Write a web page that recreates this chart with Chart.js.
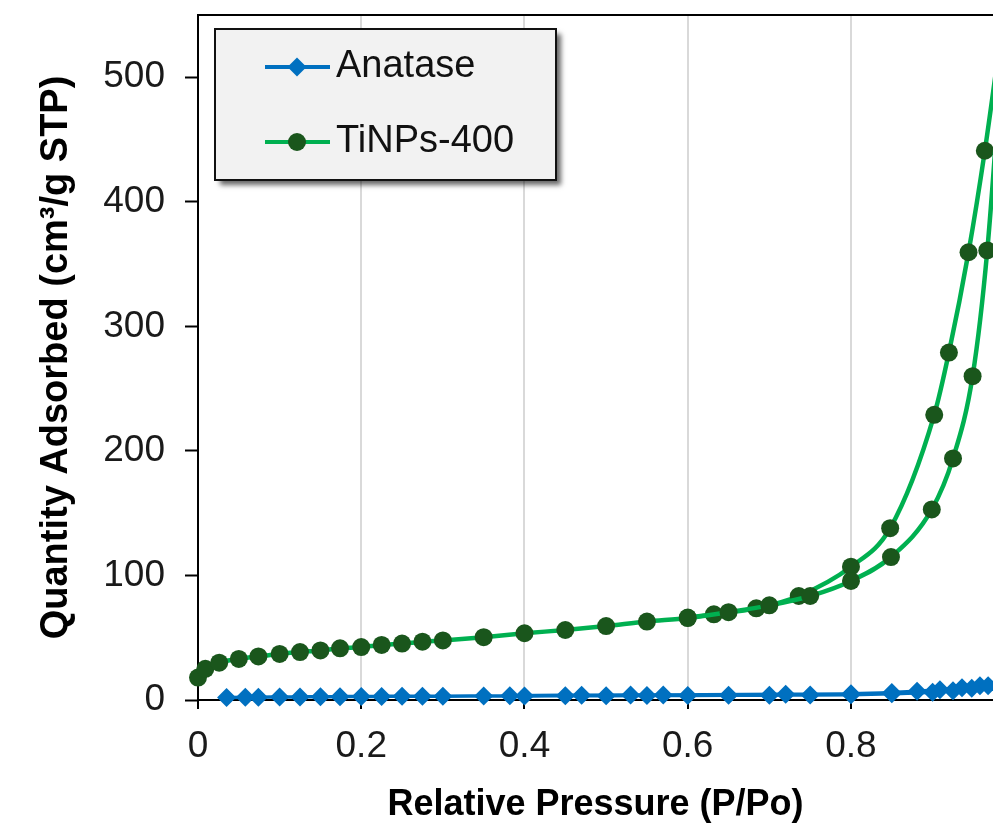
<!DOCTYPE html>
<html>
<head>
<meta charset="utf-8">
<script src="https://cdn.jsdelivr.net/npm/chart.js@4.4.1/dist/chart.umd.min.js"></script>
<style>
  html, body { margin: 0; padding: 0; background: #ffffff; overflow: hidden; }
  canvas { display: block; }
</style>
</head>
<body>
<canvas id="isotherm" width="993" height="827"></canvas>
<script>
// N2 sorption isotherms: relative pressure (P/Po) vs quantity adsorbed (cm³/g STP)
const seriesNames = ['Anatase', 'TiNPs-400'];

// Anatase – adsorption and desorption branches
const anataseAdsP = [0.035, 0.058, 0.074, 0.10, 0.125, 0.15, 0.174, 0.20, 0.225, 0.25, 0.275, 0.30, 0.35, 0.40, 0.45, 0.50, 0.55, 0.60, 0.65, 0.70, 0.75, 0.80, 0.85, 0.90, 0.925, 0.948, 0.968, 0.99];
const anataseAdsQ = [2.0, 2.2, 2.3, 2.4, 2.5, 2.6, 2.7, 2.8, 2.9, 3.0, 3.0, 3.1, 3.2, 3.3, 3.4, 3.5, 3.6, 3.7, 3.8, 3.9, 4.0, 4.3, 5.0, 6.2, 7.4, 9.5, 11.5, 16];
const anataseDesP = [0.382, 0.47, 0.53, 0.57, 0.72, 0.80, 0.85, 0.881, 0.909, 0.936, 0.958, 0.99];
const anataseDesQ = [3.5, 3.8, 4.0, 4.1, 4.6, 5.0, 6.0, 7.0, 8.2, 9.8, 11.5, 16];

// TiNPs-400 – adsorption and desorption branches (hysteresis loop)
const tinpsAdsP = [0.0, 0.009, 0.026, 0.05, 0.074, 0.10, 0.125, 0.15, 0.174, 0.20, 0.225, 0.25, 0.275, 0.30, 0.35, 0.40, 0.45, 0.50, 0.55, 0.60, 0.65, 0.70, 0.75, 0.80, 0.849, 0.899, 0.925, 0.949, 0.967, 0.99];
const tinpsAdsQ = [18, 25, 30, 33, 35, 37, 38.5, 39.8, 41.5, 42.5, 44.2, 45.3, 46.8, 47.8, 50.4, 53.6, 56.2, 59.4, 63, 65.8, 70.5, 76, 83.5, 95.6, 114.8, 153, 194, 260, 361, 565];
const tinpsDesP = [0.60, 0.632, 0.684, 0.736, 0.80, 0.848, 0.902, 0.92, 0.944, 0.964, 0.99];
const tinpsDesQ = [66.2, 68.8, 73.6, 83.5, 107, 138, 229, 279, 359.5, 441, 565];

// Axis ticks and titles
const xTickValues = [0, 0.2, 0.4, 0.6, 0.8];
const yTickValues = [0, 100, 200, 300, 400, 500];
const xTitle = 'Relative Pressure (P/Po)';
const yTitle = 'Quantity Adsorbed (cm³/g STP)';

const FONT = "'Liberation Sans', Arial, Helvetica, sans-serif";
const BLUE = '#0070c0';
const GREEN_LINE = '#00b050';
const GREEN_MARK = '#1a561c';

function toPoints(xs, ys) {
  return xs.map((x, i) => ({ x: x, y: ys[i] }));
}

const seriesStyle = [
  { line: BLUE, marker: BLUE, shape: 'rectRot', radius: 9.5, width: 3.5 },
  { line: GREEN_LINE, marker: GREEN_MARK, shape: 'circle', radius: 9, width: 4.5 }
];

function branch(series, xs, ys) {
  const s = seriesStyle[series];
  return {
    label: seriesNames[series],
    data: toPoints(xs, ys),
    borderColor: s.line,
    borderWidth: s.width,
    pointStyle: s.shape,
    pointRadius: s.radius,
    pointHoverRadius: s.radius,
    pointBackgroundColor: s.marker,
    pointBorderColor: s.marker,
    pointBorderWidth: 0,
    cubicInterpolationMode: 'monotone',
    fill: false,
    clip: { left: 16, top: 0, right: 0, bottom: 16 }
  };
}

// Scales keep their boxes exactly as fitted (no extra label overhang padding)
function noOverhang(scale) {
  scale.paddingTop = 0;
  scale.paddingBottom = 0;
  scale.paddingLeft = 0;
  scale.paddingRight = 0;
}

// Top frame line of the plot area
const frameTop = {
  id: 'frameTop',
  beforeDatasetsDraw(chart) {
    const { ctx, chartArea } = chart;
    ctx.save();
    ctx.strokeStyle = '#000';
    ctx.lineWidth = 2;
    ctx.beginPath();
    ctx.moveTo(chartArea.left - 1, chartArea.top);
    ctx.lineTo(chartArea.right, chartArea.top);
    ctx.stroke();
    ctx.restore();
  }
};

// Boxed legend with drop shadow inside the plot area
const boxedLegend = {
  id: 'boxedLegend',
  afterDatasetsDraw(chart) {
    const { ctx, chartArea } = chart;
    const bx = chartArea.left + 17, by = chartArea.top + 14, bw = 341, bh = 151;
    ctx.save();
    ctx.shadowColor = 'rgba(0,0,0,0.6)';
    ctx.shadowBlur = 5;
    ctx.shadowOffsetX = 5;
    ctx.shadowOffsetY = 5;
    ctx.fillStyle = '#f2f2f2';
    ctx.fillRect(bx, by, bw, bh);
    ctx.restore();

    ctx.save();
    ctx.strokeStyle = '#111';
    ctx.lineWidth = 2;
    ctx.strokeRect(bx, by, bw, bh);

    const rows = [by + 38, by + 113];
    seriesNames.forEach((name, i) => {
      const s = seriesStyle[i];
      const y = rows[i];
      ctx.strokeStyle = s.line;
      ctx.lineWidth = 4;
      ctx.beginPath();
      ctx.moveTo(bx + 50, y);
      ctx.lineTo(bx + 115, y);
      ctx.stroke();

      const mx = bx + 82;
      ctx.fillStyle = s.marker;
      ctx.beginPath();
      if (s.shape === 'rectRot') {
        const r = s.radius;
        ctx.moveTo(mx - r, y);
        ctx.lineTo(mx, y - r);
        ctx.lineTo(mx + r, y);
        ctx.lineTo(mx, y + r);
        ctx.closePath();
      } else {
        ctx.arc(mx, y, s.radius, 0, Math.PI * 2);
      }
      ctx.fill();

      ctx.fillStyle = '#111';
      ctx.font = '38px ' + FONT;
      ctx.textAlign = 'left';
      ctx.textBaseline = 'middle';
      ctx.fillText(name, bx + 121, y);
    });
    ctx.restore();
  }
};

new Chart(document.getElementById('isotherm'), {
  type: 'line',
  data: {
    datasets: [
      branch(0, anataseAdsP, anataseAdsQ),
      branch(0, anataseDesP, anataseDesQ),
      branch(1, tinpsAdsP, tinpsAdsQ),
      branch(1, tinpsDesP, tinpsDesQ)
    ]
  },
  options: {
    responsive: false,
    animation: false,
    devicePixelRatio: 1,
    // the plot area runs to the right edge of the canvas
    layout: { autoPadding: false, padding: { top: 15, left: 0, right: 0, bottom: 0 } },
    plugins: {
      legend: { display: false },
      tooltip: { enabled: false }
    },
    scales: {
      x: {
        type: 'linear',
        min: 0,
        max: 0.974,
        afterBuildTicks: (scale) => { scale.ticks = xTickValues.map(v => ({ value: v })); },
        afterFit: (scale) => { scale.height = 127; noOverhang(scale); },
        grid: {
          color: (c) => (c.tick && c.tick.value === 0) ? 'rgba(0,0,0,0)' : '#d9d9d9',
          lineWidth: 2,
          drawTicks: true,
          tickColor: '#000',
          tickLength: 9,
          tickWidth: 2
        },
        border: { display: true, color: '#000', width: 2 },
        ticks: {
          font: { family: FONT, size: 37 },
          color: '#1a1a1a',
          padding: 16,
          maxRotation: 0,
          autoSkip: false,
          callback: (v) => String(v)
        },
        title: {
          display: true,
          text: xTitle,
          color: '#000',
          font: { family: FONT, size: 36, weight: 'bold' },
          padding: { top: 0, bottom: 0 }
        }
      },
      y: {
        type: 'linear',
        min: 0,
        max: 550,
        afterBuildTicks: (scale) => { scale.ticks = yTickValues.map(v => ({ value: v })); },
        afterFit: (scale) => { scale.width = 198; noOverhang(scale); },
        grid: {
          drawOnChartArea: false,
          drawTicks: true,
          color: '#000',
          tickColor: '#000',
          tickLength: 13,
          tickWidth: 2
        },
        border: { display: true, color: '#000', width: 2 },
        ticks: {
          font: { family: FONT, size: 37 },
          color: '#1a1a1a',
          padding: 20,
          callback: (v) => String(v)
        },
        title: {
          display: true,
          text: yTitle,
          color: '#000',
          font: { family: FONT, size: 38, weight: 'bold' },
          padding: { top: 34, bottom: 0 }
        }
      }
    }
  },
  plugins: [frameTop, boxedLegend]
});
</script>
</body>
</html>
